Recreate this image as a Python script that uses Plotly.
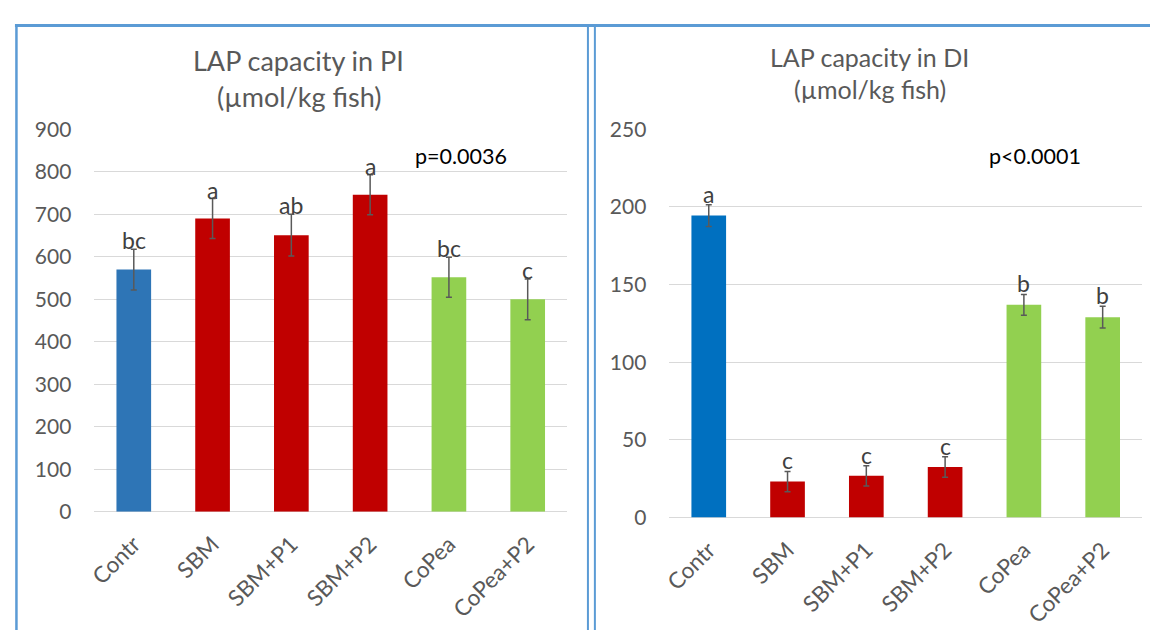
import plotly.graph_objects as go

categories = ["Contr", "SBM", "SBM+P1", "SBM+P2", "CoPea", "CoPea+P2"]
pi_values = [570, 690, 651, 746, 552, 500]
pi_err = [48, 47, 49, 47, 47, 48]
pi_letters = ["bc", "a", "ab", "a", "bc", "c"]
di_values = [194.5, 23.2, 26.9, 32.6, 137, 129]
di_err = [7, 6.5, 6.5, 6.6, 6.7, 7]
di_letters = ["a", "c", "c", "c", "b", "b"]
pi_colors = ["#2E75B6", "#C00000", "#C00000", "#C00000", "#92D050", "#92D050"]
di_colors = ["#0070C0", "#C00000", "#C00000", "#C00000", "#92D050", "#92D050"]
pi_ticks = list(range(0, 901, 100))
di_ticks = list(range(0, 251, 50))

W, H = 1150, 641
FONT = "Lato, 'Open Sans', sans-serif"
GRAY = "#595959"


def px(x):
    return x / W


def py(y):
    return (H - y) / H


fig = go.Figure()
fig.add_trace(go.Bar(
    x=categories, y=pi_values, marker=dict(color=pi_colors, line=dict(width=0)),
    error_y=dict(type="data", array=pi_err, color="#595959", thickness=1.5, width=3),
    xaxis="x", yaxis="y", showlegend=False))
fig.add_trace(go.Bar(
    x=categories, y=di_values, marker=dict(color=di_colors, line=dict(width=0)),
    error_y=dict(type="data", array=di_err, color="#595959", thickness=1.5, width=3),
    xaxis="x2", yaxis="y2", showlegend=False))

ytick = dict(showline=False, ticks="", tickfont=dict(family=FONT, size=21, color=GRAY))
xtick = dict(showline=False, ticks="", tickfont=dict(family=FONT, size=22.5, color=GRAY))
fig.update_layout(
    width=W, height=H, margin=dict(l=0, r=0, t=0, b=0),
    paper_bgcolor="white", plot_bgcolor="white", bargap=0.56,
    font=dict(family=FONT),
    xaxis=dict(domain=[px(87), px(563)], anchor="y", tickangle=-45, ticklabelstandoff=14,
               showgrid=False, zeroline=False, **xtick),
    yaxis=dict(domain=[py(518), py(120)], anchor="x", range=[0, 900], tickvals=pi_ticks,
               showgrid=True, gridcolor="#D9D9D9", gridwidth=1, zeroline=True,
               zerolinecolor="#D9D9D9", zerolinewidth=1, ticklabelstandoff=22, **ytick),
    xaxis2=dict(domain=[px(666), px(1142)], anchor="y2", tickangle=-45, ticklabelstandoff=14,
                showgrid=False, zeroline=False, **xtick),
    yaxis2=dict(domain=[py(524), py(120)], anchor="x2", range=[0, 250], tickvals=di_ticks,
                showgrid=True, gridcolor="#D9D9D9", gridwidth=1, zeroline=True,
                zerolinecolor="#D9D9D9", zerolinewidth=1, ticklabelstandoff=22, **ytick),
)

ann = []
for c, v, e, t in zip(categories, pi_values, pi_err, pi_letters):
    ann.append(dict(x=c, y=v + e, xref="x", yref="y", text=t, showarrow=False,
                    yanchor="bottom", yshift=-7, font=dict(family=FONT, size=23, color="#404040")))
for c, v, e, t in zip(categories, di_values, di_err, di_letters):
    ann.append(dict(x=c, y=v + e, xref="x2", yref="y2", text=t, showarrow=False,
                    yanchor="bottom", yshift=-5, font=dict(family=FONT, size=23, color="#404040")))

ann += [
    dict(x=px(293), y=py(48), xref="paper", yref="paper", text="LAP capacity in PI", showarrow=False,
         xanchor="center", yanchor="middle", font=dict(family=FONT, size=27, color=GRAY)),
    dict(x=px(293), y=py(86), xref="paper", yref="paper", text="(µmol/kg fish)", showarrow=False,
         xanchor="center", yanchor="middle", font=dict(family=FONT, size=27, color=GRAY)),
    dict(x=px(868), y=py(45), xref="paper", yref="paper", text="LAP capacity in DI", showarrow=False,
         xanchor="center", yanchor="middle", font=dict(family=FONT, size=25, color=GRAY)),
    dict(x=px(868), y=py(78), xref="paper", yref="paper", text="(µmol/kg fish)", showarrow=False,
         xanchor="center", yanchor="middle", font=dict(family=FONT, size=25, color=GRAY)),
    dict(x=px(456), y=py(148), xref="paper", yref="paper", text="p=0.0036", showarrow=False,
         xanchor="center", yanchor="middle", font=dict(family=FONT, size=21.5, color="#000000")),
    dict(x=px(1034), y=py(148), xref="paper", yref="paper", text="p<0.0001", showarrow=False,
         xanchor="center", yanchor="middle", font=dict(family=FONT, size=21.5, color="#000000")),
]
fig.update_layout(annotations=ann)

BLUE = "#5B9BD5"
shapes = [
    dict(type="line", xref="paper", yref="paper", x0=px(7), x1=1, y0=py(12), y1=py(12),
         line=dict(color=BLUE, width=3)),
    dict(type="line", xref="paper", yref="paper", x0=px(8.5), x1=px(8.5), y0=py(12), y1=0,
         line=dict(color=BLUE, width=2.5)),
    dict(type="line", xref="paper", yref="paper", x0=px(584), x1=px(584), y0=py(12), y1=0,
         line=dict(color=BLUE, width=2)),
    dict(type="line", xref="paper", yref="paper", x0=px(591), x1=px(591), y0=py(12), y1=0,
         line=dict(color=BLUE, width=2)),
]
fig.update_layout(shapes=shapes)

post = (
    "document.documentElement.style.margin='0';document.documentElement.style.overflow='hidden';"
    "document.body.style.margin='0';document.body.style.padding='0';document.body.style.overflow='hidden';"
    "var d=document.getElementById('{plot_id}');d.style.position='fixed';d.style.top='0px';d.style.left='0px';"
)
fig.write_html("out.html", config={"displayModeBar": False}, post_script=post)
